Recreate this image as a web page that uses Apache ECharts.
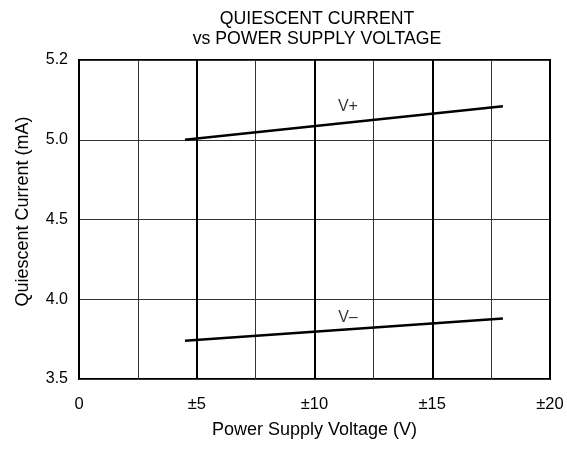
<!DOCTYPE html>
<html>
<head>
<meta charset="utf-8">
<script src="https://cdn.jsdelivr.net/npm/echarts@6/dist/echarts.min.js"></script>
<style>html,body{margin:0;padding:0;background:#fff}#c{width:567px;height:449px}</style>
</head>
<body>
<div id="c"></div>
<script>
// Data
const supplyV = [4.5, 18];
const vPlus = [5.0, 5.21];
const vMinus = [3.74, 3.88];
const seriesLabels = ['V+', 'V\u2013'];
const labelAnchors = [[11.42, 5.206], [11.42, 3.883]];
const yTopLabel = '5.2';

const chart = echarts.init(document.getElementById('c'), null, {renderer: 'canvas'});
const font = 'Liberation Sans, Arial, sans-serif';
const lineData = (ys) => supplyV.map((x, i) => [x, ys[i]]);

chart.setOption({
  animation: false,
  title: {
    text: 'QUIESCENT CURRENT\nvs POWER SUPPLY VOLTAGE',
    left: 312, top: 4, textAlign: 'center',
    textStyle: {fontFamily: font, fontSize: 17.7, fontWeight: 'normal', color: '#000', lineHeight: 20}
  },
  grid: {left: 79, right: 17, top: 60, bottom: 70, show: true, borderColor: '#000', borderWidth: 2, backgroundColor: 'transparent'},
  xAxis: [{
    type: 'value', min: 0, max: 20, interval: 2.5,
    axisLine: {show: false}, axisTick: {show: false}, axisLabel: {show: false},
    splitLine: {show: true, lineStyle: {color: '#333', width: 1}}
  }, {
    type: 'value', min: 0, max: 20, interval: 5, position: 'bottom',
    name: 'Power Supply Voltage (V)', nameLocation: 'middle', nameGap: 42,
    nameTextStyle: {fontFamily: font, fontSize: 18, color: '#000'},
    axisLine: {show: false}, axisTick: {show: false},
    axisLabel: {fontFamily: font, fontSize: 16.5, color: '#000', margin: 17,
      formatter: v => v === 0 ? '0' : '\u00b1' + v},
    splitLine: {show: true, lineStyle: {color: '#000', width: 2}}
  }],
  yAxis: {
    type: 'value', min: 3.5, max: 5.5, interval: 0.5,
    name: 'Quiescent Current (mA)', nameLocation: 'middle', nameGap: 47,
    nameTextStyle: {fontFamily: font, fontSize: 18, color: '#000', padding: [0, 0, 0, 16]},
    axisLine: {show: false}, axisTick: {show: false},
    axisLabel: {fontFamily: font, fontSize: 16, color: '#000', margin: 11,
      formatter: v => Math.abs(v - 5.5) < 1e-9 ? yTopLabel : v.toFixed(1)},
    splitLine: {show: true, lineStyle: {color: '#333', width: 1}}
  },
  series: [
    {type: 'line', xAxisIndex: 0, data: lineData(vPlus), symbol: 'none', lineStyle: {color: '#000', width: 2.5}},
    {type: 'line', xAxisIndex: 0, data: lineData(vMinus), symbol: 'none', lineStyle: {color: '#000', width: 2.5}},
    {type: 'scatter', xAxisIndex: 0, symbolSize: 0, silent: true,
      data: labelAnchors.map((p, i) => ({value: p, name: seriesLabels[i]})),
      label: {show: true, position: 'inside', formatter: p => p.name, fontFamily: font, fontSize: 16, color: '#000'}}
  ]
});
</script>
</body>
</html>
